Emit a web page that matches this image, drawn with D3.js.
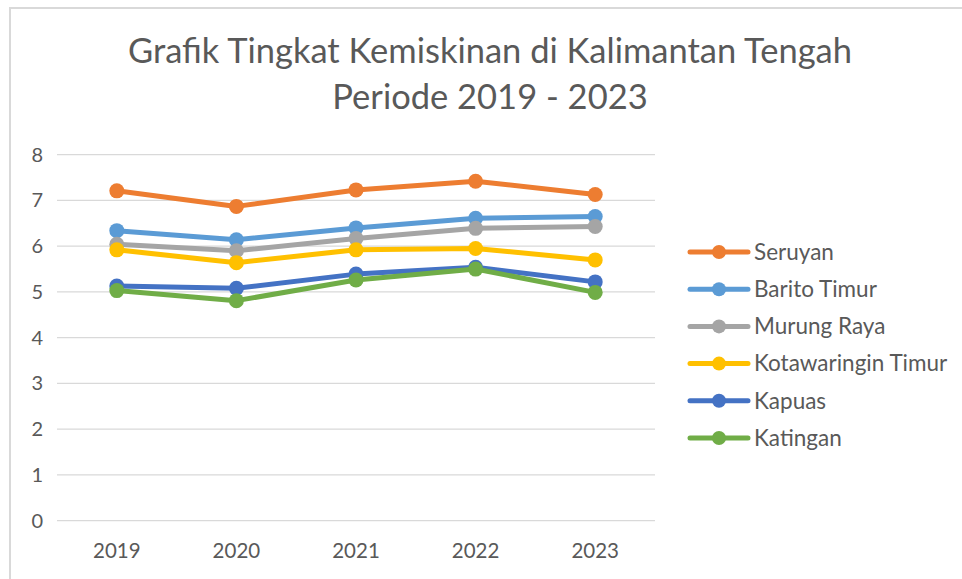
<!DOCTYPE html>
<html>
<head>
<meta charset="utf-8">
<script src="https://cdn.jsdelivr.net/npm/d3@7"></script>
<style>
  body { margin: 0; background: #fff; }
  text { font-family: Lato, "Open Sans", sans-serif; fill: #595959; }
</style>
</head>
<body>
<div id="chart"></div>
<script>
var w = 962, h = 579;

var years = ["2019", "2020", "2021", "2022", "2023"];
var seriesNames = ["Seruyan", "Barito Timur", "Murung Raya", "Kotawaringin Timur", "Kapuas", "Katingan"];
var seriesColors = ["#ED7D31", "#5B9BD5", "#A5A5A5", "#FFC000", "#4472C4", "#70AD47"];

var seruyan = [7.21, 6.87, 7.23, 7.42, 7.13];
var baritoTimur = [6.34, 6.14, 6.40, 6.61, 6.65];
var murungRaya = [6.04, 5.90, 6.17, 6.39, 6.43];
var kotawaringinTimur = [5.92, 5.64, 5.92, 5.95, 5.70];
var kapuas = [5.13, 5.08, 5.39, 5.54, 5.22];
var katingan = [5.03, 4.81, 5.26, 5.50, 4.99];

var yTicks = [0, 1, 2, 3, 4, 5, 6, 7, 8];

var allValues = [seruyan, baritoTimur, murungRaya, kotawaringinTimur, kapuas, katingan];

var svg = d3.select("#chart").append("svg").attr("width", w).attr("height", h);

// chart frame (only left and top edges are visible in the crop)
svg.append("path").attr("d", "M 10 " + h + " V 8 H " + w)
  .style("fill", "none").style("stroke", "#d9d9d9").style("stroke-width", 2);

// title
svg.append("text").attr("x", 490).attr("y", 63).attr("text-anchor", "middle")
  .style("font-size", "34.5px").text("Grafik Tingkat Kemiskinan di Kalimantan Tengah");
svg.append("text").attr("x", 490).attr("y", 109).attr("text-anchor", "middle")
  .style("font-size", "34.5px").text("Periode 2019 - 2023");

var x = d3.scaleBand().domain(years).range([57, 655]);
var y = d3.scaleLinear().domain([0, 8]).range([520.7, 154.7]);

// gridlines
svg.append("g").selectAll("line").data(yTicks).enter().append("line")
  .attr("x1", 57).attr("x2", 655)
  .attr("y1", function (d) { return y(d); }).attr("y2", function (d) { return y(d); })
  .style("stroke", "#d9d9d9").style("stroke-width", 1.3);

// y labels
svg.append("g").selectAll("text").data(yTicks).enter().append("text")
  .attr("x", 43).attr("y", function (d) { return y(d); }).attr("dy", "0.35em")
  .attr("text-anchor", "end").style("font-size", "20px")
  .text(function (d) { return d; });

// x labels
svg.append("g").selectAll("text").data(years).enter().append("text")
  .attr("x", function (d) { return x(d) + x.bandwidth() / 2; }).attr("y", 551)
  .attr("dy", "0.35em").attr("text-anchor", "middle").style("font-size", "20.5px")
  .text(function (d) { return d; });

var line = d3.line()
  .x(function (d, i) { return x(years[i]) + x.bandwidth() / 2; })
  .y(function (d) { return y(d); });

allValues.forEach(function (vals, k) {
  var g = svg.append("g");
  g.append("path").attr("d", line(vals))
    .style("fill", "none").style("stroke", seriesColors[k]).style("stroke-width", 5)
    .style("stroke-linejoin", "round");
  g.selectAll("circle").data(vals).enter().append("circle")
    .attr("cx", function (d, i) { return x(years[i]) + x.bandwidth() / 2; })
    .attr("cy", function (d) { return y(d); })
    .attr("r", 7.5).style("fill", seriesColors[k]);
});

// legend
var legend = svg.append("g");
seriesNames.forEach(function (name, k) {
  var ly = 252 + k * 37.2;
  legend.append("line").attr("x1", 690).attr("x2", 748).attr("y1", ly).attr("y2", ly)
    .style("stroke", seriesColors[k]).style("stroke-width", 5).style("stroke-linecap", "round");
  legend.append("circle").attr("cx", 719).attr("cy", ly).attr("r", 7).style("fill", seriesColors[k]);
  legend.append("text").attr("x", 754).attr("y", ly).attr("dy", "0.35em")
    .style("font-size", "22.5px").text(name);
});
</script>
</body>
</html>
